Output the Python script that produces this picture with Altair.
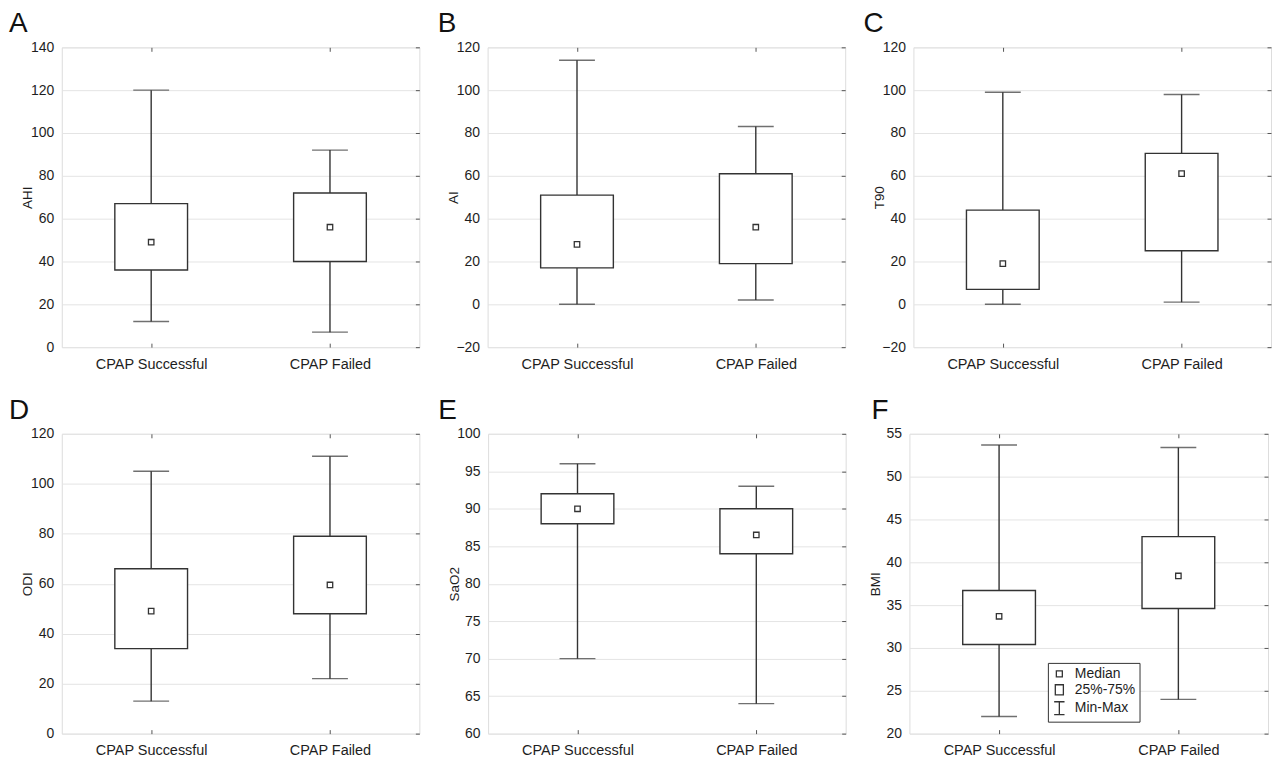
import altair as alt
import pandas as pd

groups = ["CPAP Successful", "CPAP Failed"]

ahi_min = [12, 7]
ahi_q1 = [36, 40]
ahi_median = [49, 56]
ahi_q3 = [67, 72]
ahi_max = [120, 92]
ahi_ticks = [0, 20, 40, 60, 80, 100, 120, 140]

ai_min = [0, 2]
ai_q1 = [17, 19]
ai_median = [28, 36]
ai_q3 = [51, 61]
ai_max = [114, 83]
ai_ticks = [-20, 0, 20, 40, 60, 80, 100, 120]

t90_min = [0, 1]
t90_q1 = [7, 25]
t90_median = [19, 61]
t90_q3 = [44, 70.5]
t90_max = [99, 98]
t90_ticks = [-20, 0, 20, 40, 60, 80, 100, 120]

odi_min = [13, 22]
odi_q1 = [34, 48]
odi_median = [49, 59.5]
odi_q3 = [66, 79]
odi_max = [105, 111]
odi_ticks = [0, 20, 40, 60, 80, 100, 120]

sao2_min = [70, 64]
sao2_q1 = [88, 84]
sao2_median = [90, 86.5]
sao2_q3 = [92, 90]
sao2_max = [96, 93]
sao2_ticks = [60, 65, 70, 75, 80, 85, 90, 95, 100]

bmi_min = [22, 24]
bmi_q1 = [30.4, 34.6]
bmi_median = [33.7, 38.4]
bmi_q3 = [36.7, 43]
bmi_max = [53.7, 53.4]
bmi_ticks = [20, 25, 30, 35, 40, 45, 50, 55]

legend_items = ["Median", "25%-75%", "Min-Max"]

FONT = "Liberation Sans"
LINE = "#333333"
TXT = "#1e1e1e"


def inner_axis(orient, values=None):
    kw = dict(orient=orient, title=None, labels=False, domain=False, grid=False,
              ticks=True, tickSize=4, offset=-4, tickColor="#555", minExtent=0, maxExtent=0)
    if values is not None:
        kw["values"] = values
    return alt.Axis(**kw)


def panel(letter, ytitle, ticks, mn, q1, med, q3, mx, width, letter_dx, legend=False):
    df = pd.DataFrame({"group": groups, "mn": mn, "q1": q1, "med": med, "q3": q3, "mx": mx})
    yscale = alt.Scale(domain=[ticks[0], ticks[-1]], nice=False, zero=False)
    xscale = alt.Scale(type="point", padding=0.5, domain=groups)

    base = alt.Chart(df)
    whisk = base.mark_rule(color=LINE, strokeWidth=1.4).encode(
        x=alt.X("group:N", scale=xscale, sort=groups,
                axis=alt.Axis(title=None, labelAngle=0, ticks=False, domain=False, grid=False,
                              labelPadding=10, labelFontSize=14.5, labelColor=TXT, labelFont=FONT,
                              minExtent=0)),
        y=alt.Y("mn:Q", scale=yscale,
                axis=alt.Axis(title=ytitle, values=ticks, grid=True, gridColor="#e4e4e4", gridWidth=1,
                              ticks=False, domain=False, labelFontSize=14, labelColor=TXT,
                              labelFont=FONT, labelPadding=8, titleFontSize=13.5,
                              titleFontWeight="normal", titleColor=TXT, titleFont=FONT,
                              titlePadding=0, minExtent=27, maxExtent=27)),
        y2="mx:Q",
    )
    box = base.mark_bar(size=73, fill="white", stroke=LINE, strokeWidth=1.4).encode(
        x=alt.X("group:N", scale=xscale, sort=groups, axis=inner_axis("top")),
        y=alt.Y("q1:Q", scale=yscale, axis=inner_axis("right", ticks)),
        y2="q3:Q",
    )
    cap_lo = base.mark_tick(size=36, thickness=1.4, color=LINE).encode(
        x=alt.X("group:N", scale=xscale, sort=groups, axis=inner_axis("bottom")),
        y=alt.Y("mn:Q", scale=yscale, axis=None),
    )
    cap_hi = base.mark_tick(size=36, thickness=1.4, color=LINE).encode(
        x=alt.X("group:N", scale=xscale, sort=groups, axis=None),
        y=alt.Y("mx:Q", scale=yscale, axis=None),
    )
    median = base.mark_square(size=30, filled=True, color="white", stroke=LINE, strokeWidth=1.3,
                              opacity=1).encode(
        x=alt.X("group:N", scale=xscale, sort=groups, axis=None),
        y=alt.Y("med:Q", scale=yscale, axis=None),
    )
    layers = [whisk, box, cap_lo, cap_hi, median]
    if legend:
        ldf = pd.DataFrame({"item": legend_items})
        leg = alt.Chart(ldf).mark_point(opacity=0, filled=False, color=LINE, strokeWidth=1.3).encode(
            shape=alt.Shape("item:N",
                            scale=alt.Scale(domain=legend_items,
                                            range=["square", "M-0.8,-1H0.8V1H-0.8Z",
                                                   "M-0.8,-1H0.8M0,-1V1M-0.8,1H0.8"]),
                            legend=alt.Legend(title=None, orient="none", legendX=139, legendY=230,
                                              padding=4, strokeColor="#333", fillColor="white",
                                              labelFontSize=14, labelFont=FONT, labelColor=TXT,
                                              symbolStrokeColor=LINE, symbolFillColor="white",
                                              symbolStrokeWidth=1.3, symbolOpacity=1,
                                              rowPadding=1, labelOffset=8)),
            size=alt.Size("item:N",
                          scale=alt.Scale(domain=legend_items, range=[36, 169, 196]),
                          legend=alt.Legend(title=None, orient="none", legendX=139, legendY=230)),
        )
        layers.append(leg)
    return alt.layer(*layers).resolve_axis(x="independent", y="independent").properties(
        width=width, height=301,
        title=alt.TitleParams(text=letter, anchor="start", frame="group", dx=letter_dx, offset=-20,
                              fontSize=28, fontWeight="normal", baseline="alphabetic",
                              color="#111", font=FONT),
    )


W = 359
pA = panel("A", "AHI", ahi_ticks, ahi_min, ahi_q1, ahi_median, ahi_q3, ahi_max, W, -53)
pB = panel("B", "AI", ai_ticks, ai_min, ai_q1, ai_median, ai_q3, ai_max, W, -50)
pC = panel("C", "T90", t90_ticks, t90_min, t90_q1, t90_median, t90_q3, t90_max, W, -50)
pD = panel("D", "ODI", odi_ticks, odi_min, odi_q1, odi_median, odi_q3, odi_max, W, -53)
pE = panel("E", "SaO2", sao2_ticks, sao2_min, sao2_q1, sao2_median, sao2_q3, sao2_max, W, -50)
pF = panel("F", "BMI", bmi_ticks, bmi_min, bmi_q1, bmi_median, bmi_q3, bmi_max, 360, -38, legend=True)

row1 = alt.hconcat(pA, pB, pC, spacing=16.5)
row2 = alt.hconcat(alt.hconcat(pD, pE, spacing=17), pF, spacing=21).resolve_legend(
    shape="independent", size="independent")

chart = alt.vconcat(row1, row2, spacing=25).resolve_legend(
    shape="independent", size="independent"
).properties(
    padding={"left": 0, "top": 0, "right": 0, "bottom": 0}
).configure_view(stroke="#555555", strokeWidth=1.5).configure(background="white")

chart.save("out.html", embed_options={"renderer": "svg", "actions": False})
